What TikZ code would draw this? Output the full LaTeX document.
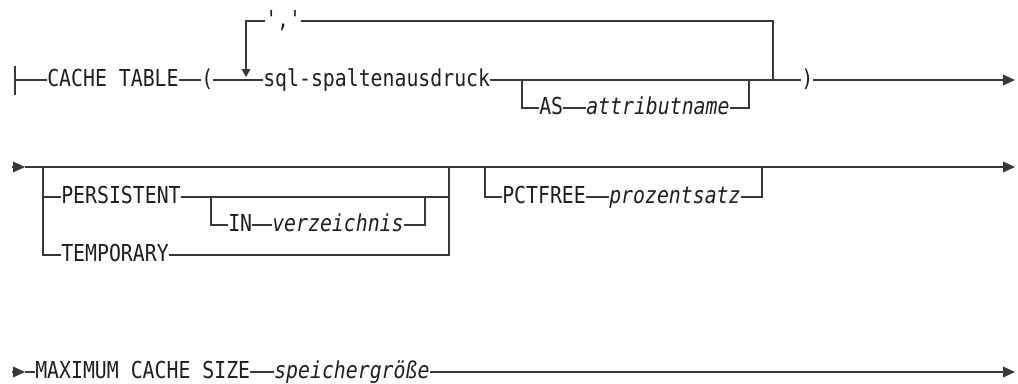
\documentclass[tikz,border=0pt]{standalone}
\usepackage{fontspec}
\newfontfamily\diafont[FakeStretch=0.85,Ligatures=TeXOff]{DejaVu Sans Mono}
\usetikzlibrary{arrows.meta}
\tikzset{
  ln/.style={line width=1.1pt, draw=black!78},
  kw/.style={inner xsep=0pt, inner ysep=0pt, text height=13.5pt, text depth=4.5pt,
    font=\diafont\fontsize{17.5}{20}\selectfont, text=black!88},
  var/.style={kw, font=\diafont\itshape\fontsize{17.5}{20}\selectfont},
  endarrow/.style={-{Triangle[length=9pt,width=8pt]}},
  downarrow/.style={-{Triangle[length=6pt,width=6.5pt]}},
}
\begin{document}
\begin{tikzpicture}[x=0.75pt,y=-0.75pt]
\useasboundingbox (0,0) rectangle (1018,383);
% ---------- row 1 ----------
\coordinate (bt) at (15,66);
\coordinate (bb) at (15,95);
\coordinate (s1) at (15,80);
\node[kw,anchor=west] (cache) at (47,80) {CACHE TABLE};
\node[kw,anchor=west] (lp) at (201,80) {(};
\node[kw,anchor=west] (sql) at (263,80) {sql-spaltenausdruck};
\coordinate (b1) at (522,80);
\node[kw,anchor=west] (as) at (539,108) {AS};
\node[var,anchor=west] (attr) at (586,108) {attributname};
\coordinate (b2) at (749,80);
\coordinate (r1) at (773,80);
\coordinate (r1t) at (773,21);
\node[kw,anchor=west] (comma) at (265,21) {','};
\coordinate (l1t) at (246,21);
\coordinate (l1b) at (246,77);
\node[kw,anchor=west] (rp) at (801,80) {)};
\coordinate (e1) at (1015,80);

\draw[ln] (bt) -- (bb);
\draw[ln] (s1) -- (cache.west);
\draw[ln] (cache.east) -- (lp.west);
\draw[ln] (lp.east) -- (sql.west);
\draw[ln] (sql.east) -- (rp.west);
\draw[ln] (b1) |- (as.west);
\draw[ln] (as.east) -- (attr.west);
\draw[ln] (attr.east) -| (b2);
\draw[ln] (r1) -- (r1t) -- (comma.east);
\draw[ln,downarrow] (comma.west) -- (l1t) -- (l1b);
\draw[ln,endarrow] (rp.east) -- (e1);

% ---------- row 2 ----------
\coordinate (a2) at (12,167);
\coordinate (m2) at (25,167);
\coordinate (b3) at (43,167);
\coordinate (b4) at (449,167);
\coordinate (b5) at (485,167);
\coordinate (b6) at (762,167);
\coordinate (e2) at (1015,167);
\node[kw,anchor=west] (pers) at (61,197) {PERSISTENT};
\coordinate (b7) at (211,197);
\node[kw,anchor=west] (in) at (228,225) {IN};
\node[var,anchor=west] (verz) at (272,225) {verzeichnis};
\coordinate (b8) at (425,197);
\node[kw,anchor=west] (temp) at (61,255) {TEMPORARY};
\node[kw,anchor=west] (pct) at (502,197) {PCTFREE};
\node[var,anchor=west] (proz) at (609,197) {prozentsatz};

\draw[ln,endarrow] (a2) -- (m2);
\draw[ln,endarrow] (m2) -- (e2);
\draw[ln] (b3) |- (pers.west);
\draw[ln] (b3) |- (temp.west);
\draw[ln] (pers.east) -- (pers.east -| b4);
\draw[ln] (temp.east) -| (b4);
\draw[ln] (b7) |- (in.west);
\draw[ln] (in.east) -- (verz.west);
\draw[ln] (verz.east) -| (b8);
\draw[ln] (b5) |- (pct.west);
\draw[ln] (pct.east) -- (proz.west);
\draw[ln] (proz.east) -| (b6);

% ---------- row 3 ----------
\coordinate (a3) at (12,372);
\coordinate (m3) at (25,372);
\coordinate (e3) at (1015,372);
\node[kw,anchor=west] (max) at (35,372) {MAXIMUM CACHE SIZE};
\node[var,anchor=west] (spei) at (274,372) {speichergröße};
\draw[ln,endarrow] (a3) -- (m3);
\draw[ln] (m3) -- (max.west);
\draw[ln] (max.east) -- (spei.west);
\draw[ln,endarrow] (spei.east) -- (e3);
\end{tikzpicture}
\end{document}
